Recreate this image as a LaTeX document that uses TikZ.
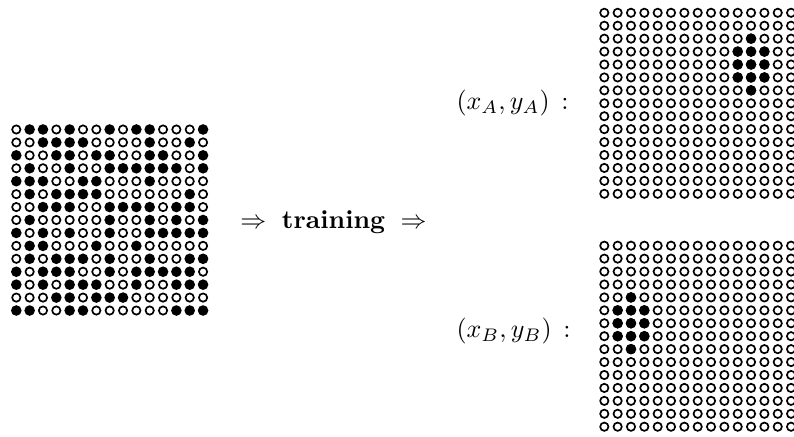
\documentclass[tikz,border=0pt]{standalone}
\begin{document}
\begin{tikzpicture}[x=0.385pt,y=-0.385pt]
\tikzset{
  offdot/.style={draw=black,line width=0.65pt},
  ondot/.style={fill=black},
  lbl/.style={inner sep=0pt,font=\fontsize{10}{12}\selectfont}
}
\useasboundingbox (0,0) rectangle (794,437);
% left input grid
\foreach \row [count=\i] in {
{0,1,1,0,1,0,0,1,0,1,1,0,0,0,1},
{0,0,1,1,1,1,0,0,0,0,1,0,0,1,0},
{1,0,0,1,1,0,1,1,0,0,1,1,0,0,1},
{0,1,0,0,1,0,0,1,1,1,1,1,1,0,1},
{1,1,1,0,0,1,1,0,0,0,1,0,0,0,0},
{0,1,0,1,1,1,1,0,0,0,0,0,0,1,0},
{0,0,1,1,1,0,0,1,1,1,1,0,1,1,0},
{0,1,0,0,0,0,0,1,0,0,1,0,1,0,1},
{1,0,1,0,1,0,0,1,0,0,1,1,1,1,1},
{0,1,1,0,0,0,1,0,0,1,0,0,0,0,0},
{0,1,0,1,1,1,0,1,0,0,1,0,0,1,1},
{1,0,1,1,1,0,0,1,0,1,1,1,1,1,0},
{1,0,1,0,1,1,1,0,0,1,0,0,1,1,1},
{0,0,0,1,1,0,1,1,1,0,0,0,0,0,0},
{1,1,0,0,1,1,0,0,0,0,0,0,1,1,1}} {
  \foreach \v [count=\j] in \row {
    \ifnum\v=1
      \fill[ondot] ({16.3+13.34*(\j-1)},{129.5+12.93*(\i-1)}) circle[radius=5.3];
    \else
      \draw[offdot] ({16.3+13.34*(\j-1)},{129.5+12.93*(\i-1)}) circle[radius=4.15];
    \fi
  }
}
% right output grids (open dots)
\foreach \oy in {12.8,245.7} {
  \foreach \i in {1,...,15} {
    \foreach \j in {1,...,15} {
      \draw[offdot] ({604.3+13.34*(\j-1)},{\oy+12.93*(\i-1)}) circle[radius=4.15];
    }
  }
}
% filled dots of grid A
\foreach \i/\j in {3/12,4/11,4/12,4/13,5/11,5/12,5/13,6/11,6/12,6/13,7/12} {
  \fill[ondot] ({604.3+13.34*(\j-1)},{12.8+12.93*(\i-1)}) circle[radius=5.3];
}
% filled dots of grid B
\foreach \i/\j in {5/3,6/2,6/3,6/4,7/2,7/3,7/4,8/2,8/3,8/4,9/3} {
  \fill[ondot] ({604.3+13.34*(\j-1)},{245.7+12.93*(\i-1)}) circle[radius=5.3];
}
% labels
\node[lbl,anchor=base] (train) at (333.5,228.5)
  {$\Rightarrow$\hspace{6pt}\textbf{training}\hspace{6pt}$\Rightarrow$};
\node[lbl,anchor=base west] (la) at (456,109.5) {$(x_A,y_A)$\hspace{4.5pt}:};
\node[lbl,anchor=base west] (lb) at (456,337.5) {$(x_B,y_B)$\hspace{4.5pt}:};
\end{tikzpicture}
\end{document}
